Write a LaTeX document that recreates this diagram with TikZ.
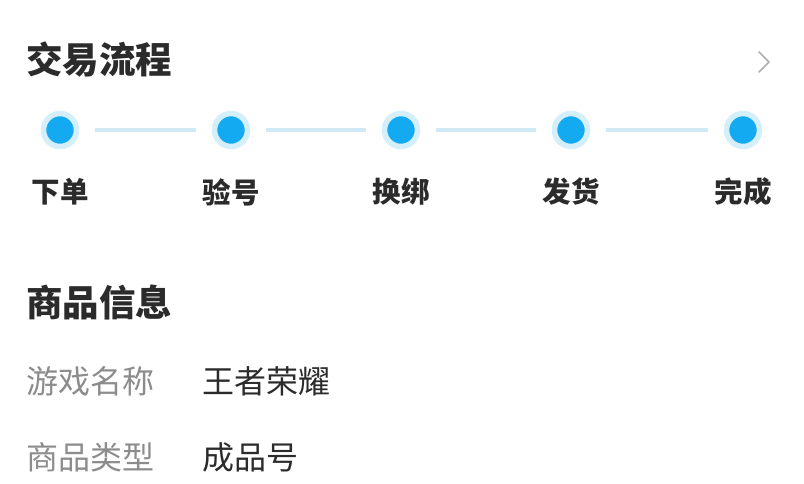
\documentclass[tikz,border=0pt]{standalone}
\usepackage{fontspec}
\newfontfamily\cjk{Noto Sans CJK SC}
\definecolor{dotblue}{HTML}{14AAF2}
\definecolor{haloblue}{HTML}{D4EEFA}
\definecolor{lineblue}{HTML}{CFE9F5}
\definecolor{txtdark}{HTML}{2B2B2B}
\definecolor{txtgray}{HTML}{8C8C8C}
\tikzset{
  heading/.style={anchor=west,inner sep=0pt,text=txtdark,font=\cjk\bfseries\fontsize{36.5}{36.5}\selectfont},
  stepdot/.style={circle,fill=dotblue,draw=haloblue,line width=5.5pt,minimum size=33pt,inner sep=0pt},
  steplabel/.style={inner sep=0pt,text=txtdark,font=\cjk\bfseries\fontsize{28.5}{28.5}\selectfont},
  itemkey/.style={anchor=west,inner sep=0pt,text=txtgray,font=\cjk\fontsize{32}{32}\selectfont},
  itemval/.style={anchor=west,inner sep=0pt,text=txtdark,font=\cjk\fontsize{32}{32}\selectfont}
}
\begin{document}
\begin{tikzpicture}[x=1pt,y=-1pt,line cap=round,line join=round]
  \useasboundingbox[fill=white] (0,0) rectangle (804,484);
  \node[heading] (flow) at (26,60) {交易流程};
  \draw[txtgray!70,line width=1.6pt] (759,52)--(769,62)--(759,72);
  % steps
  \foreach \x/\t [count=\i] in {60/下单,231/验号,401/换绑,571/发货,743/完成}{
    \node[stepdot] (s\i) at (\x,130) {};
    \node[steplabel] (l\i) at (\x,192) {\t};
  }
  \foreach \i [evaluate=\i as \j using int(\i+1)] in {1,...,4}
    \draw[lineblue,line width=4.5pt,line cap=butt,shorten <=16pt,shorten >=16pt] (s\i)--(s\j);
  \node[heading] (info) at (26,302) {商品信息};
  \node[itemkey] (k1) at (26,381) {游戏名称};
  \node[itemval] (v1) at (202,381) {王者荣耀};
  \node[itemkey] (k2) at (26,457) {商品类型};
  \node[itemval] (v2) at (202,457) {成品号};
\end{tikzpicture}
\end{document}
